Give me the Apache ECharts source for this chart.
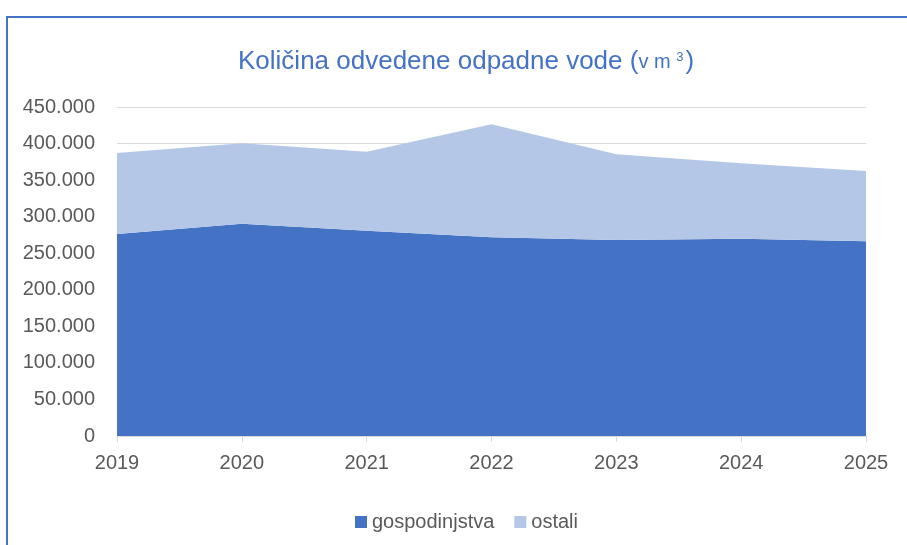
<!DOCTYPE html>
<html>
<head>
<meta charset="utf-8">
<script src="https://cdn.jsdelivr.net/npm/echarts@6/dist/echarts.min.js"></script>
<style>
html,body{margin:0;padding:0;background:#fff;}
#c{width:907px;height:545px;}
</style>
</head>
<body>
<div id="c"></div>
<script>
const years = ['2019', '2020', '2021', '2022', '2023', '2024', '2025'];
const gospodinjstva = [276300, 290400, 280800, 271800, 268100, 269900, 266300];
const ostali = [110800, 109900, 108100, 154500, 117200, 103100, 96200];
const seriesNames = ['gospodinjstva', 'ostali'];
const yMin = 0, yMax = 450000, yStep = 50000;

const font = '"Liberation Sans", Arial, sans-serif';
const grey = '#595959';

function fmt(v) {
  return String(v).replace(/\B(?=(\d{3})+(?!\d))/g, '.');
}

const chart = echarts.init(document.getElementById('c'), null, {renderer: 'canvas'});
chart.setOption({
  animation: false,
  backgroundColor: '#ffffff',
  title: {
    text: '{a|Količina odvedene odpadne vode (}{b|v m }{c|3}{a|)}',
    left: 233,
    top: 40,
    textStyle: {
      fontWeight: 'normal',
      rich: {
        a: {fontFamily: font, fontSize: 26, fontWeight: 'normal', color: '#4472C4', lineHeight: 30, verticalAlign: 'bottom'},
        b: {fontFamily: font, fontSize: 20, fontWeight: 'normal', color: '#4472C4', lineHeight: 24, verticalAlign: 'bottom', padding: [0,0,3,0]},
        c: {fontFamily: font, fontSize: 13, fontWeight: 'normal', color: '#4472C4', lineHeight: 14, verticalAlign: 'top', padding: [6,2,0,0]}
      }
    }
  },
  legend: {
    left: 350,
    top: 507,
    itemWidth: 12,
    itemHeight: 12,
    itemGap: 20,
    icon: 'rect',
    textStyle: {fontFamily: font, fontSize: 20, color: grey},
    data: seriesNames
  },
  grid: {left: 117, right: 41, top: 107, bottom: 109, containLabel: false},
  xAxis: {
    type: 'category',
    data: years,
    boundaryGap: false,
    axisLine: {lineStyle: {color: '#D9D9D9', width: 1}},
    axisTick: {show: true, length: 6, lineStyle: {color: '#D9D9D9'}},
    axisLabel: {fontFamily: font, fontSize: 20, color: grey, margin: 17}
  },
  yAxis: {
    type: 'value',
    min: yMin, max: yMax, interval: yStep,
    axisLine: {show: false},
    axisTick: {show: false},
    splitLine: {lineStyle: {color: '#D9D9D9', width: 1}},
    axisLabel: {fontFamily: font, fontSize: 20, color: grey, margin: 22, formatter: fmt}
  },
  graphic: [{
    type: 'rect',
    shape: {x: 7, y: 17, width: 1000, height: 1000},
    style: {fill: 'none', stroke: '#4472C4', lineWidth: 2},
    silent: true,
    z: 100
  }],
  series: [
    {
      name: seriesNames[0], type: 'line', stack: 'total', data: gospodinjstva,
      symbol: 'none', lineStyle: {width: 0}, areaStyle: {color: '#4472C4', opacity: 1},
      itemStyle: {color: '#4472C4'}
    },
    {
      name: seriesNames[1], type: 'line', stack: 'total', data: ostali,
      symbol: 'none', lineStyle: {width: 0}, areaStyle: {color: '#B4C7E7', opacity: 1},
      itemStyle: {color: '#B4C7E7'}
    }
  ]
});
</script>
</body>
</html>
